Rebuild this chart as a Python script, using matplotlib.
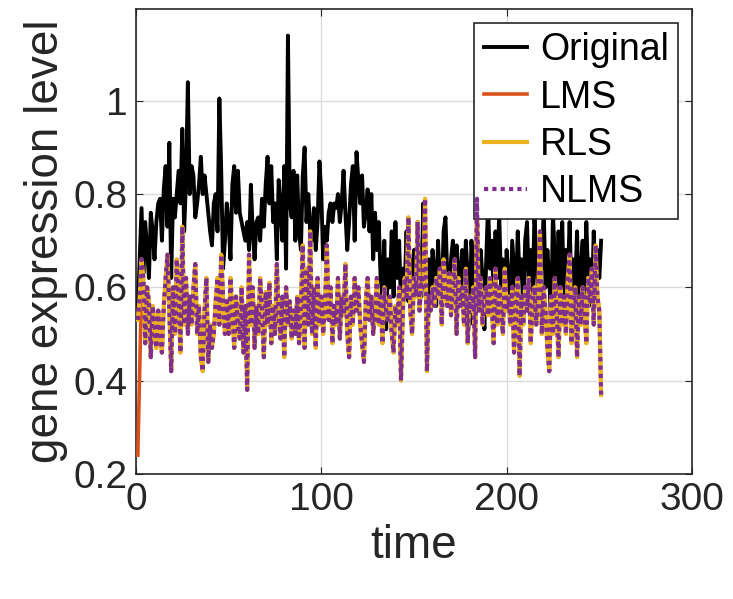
import matplotlib
matplotlib.use("Agg")
import matplotlib.pyplot as plt
import numpy as np

plt.rcParams['font.family'] = ['Liberation Sans', 'DejaVu Sans']

# Time axis
time = list(range(1, 252))

# Original gene expression level
original = [
    0.55, 0.66, 0.77, 0.63, 0.74, 0.68, 0.62, 0.76, 0.72, 0.66,
    0.74, 0.78, 0.79, 0.70, 0.81, 0.86, 0.73, 0.91, 0.62, 0.79,
    0.75, 0.80, 0.85, 0.78, 0.94, 0.72, 0.83, 1.04, 0.80, 0.86,
    0.84, 0.75, 0.78, 0.82, 0.88, 0.80, 0.84, 0.80, 0.76, 0.72,
    0.69, 0.78, 0.80, 0.72, 1.005, 0.85, 0.64, 0.70, 0.78, 0.74,
    0.66, 0.82, 0.86, 0.76, 0.85, 0.76, 0.74, 0.72, 0.70, 0.74,
    0.68, 0.82, 0.72, 0.66, 0.74, 0.75, 0.70, 0.79, 0.73, 0.82,
    0.88, 0.78, 0.86, 0.74, 0.78, 0.66, 0.83, 0.77, 0.70, 0.86,
    0.64, 1.14, 0.78, 0.75, 0.85, 0.70, 0.84, 0.72, 0.68, 0.84,
    0.90, 0.74, 0.80, 0.72, 0.70, 0.77, 0.68, 0.74, 0.87, 0.80,
    0.66, 0.73, 0.70, 0.76, 0.78, 0.74, 0.78, 0.77, 0.80, 0.74,
    0.78, 0.85, 0.76, 0.68, 0.74, 0.82, 0.86, 0.70, 0.89, 0.83,
    0.78, 0.84, 0.73, 0.76, 0.81, 0.72, 0.80, 0.66, 0.76, 0.68,
    0.74, 0.62, 0.58, 0.70, 0.51, 0.66, 0.60, 0.72, 0.58, 0.74,
    0.62, 0.70, 0.56, 0.64, 0.60, 0.72, 0.57, 0.66, 0.60, 0.68,
    0.62, 0.74, 0.60, 0.58, 0.78, 0.62, 0.56, 0.66, 0.58, 0.68,
    0.64, 0.56, 0.70, 0.60, 0.58, 0.72, 0.75, 0.62, 0.56, 0.66,
    0.70, 0.58, 0.69, 0.64, 0.56, 0.68, 0.60, 0.70, 0.62, 0.52,
    0.70, 0.64, 0.56, 0.72, 0.60, 0.68, 0.62, 0.51, 0.66, 0.78,
    0.64, 0.70, 0.58, 0.72, 0.62, 0.76, 0.60, 0.66, 0.56, 0.68,
    0.62, 0.54, 0.70, 0.64, 0.58, 0.72, 0.62, 0.66, 0.54, 0.70,
    0.74, 0.60, 0.68, 0.56, 0.76, 0.66, 0.58, 0.70, 0.64, 0.77,
    0.60, 0.68, 0.62, 0.52, 0.76, 0.66, 0.58, 0.72, 0.60, 0.74,
    0.56, 0.68, 0.62, 0.74, 0.58, 0.66, 0.60, 0.72, 0.54, 0.64,
    0.70, 0.58, 0.74, 0.62, 0.66, 0.56, 0.72, 0.60, 0.68, 0.62,
    0.70,
]

# RLS estimate
rls = [
    0.53, 0.58, 0.66, 0.62, 0.48, 0.60, 0.57, 0.45, 0.56, 0.52,
    0.47, 0.55, 0.50, 0.46, 0.56, 0.62, 0.67, 0.55, 0.42, 0.60,
    0.50, 0.66, 0.58, 0.46, 0.73, 0.52, 0.62, 0.50, 0.58, 0.52,
    0.60, 0.65, 0.50, 0.56, 0.45, 0.42, 0.55, 0.62, 0.44, 0.52,
    0.47, 0.50, 0.57, 0.62, 0.52, 0.67, 0.58, 0.50, 0.57, 0.50,
    0.62, 0.55, 0.47, 0.58, 0.52, 0.49, 0.60, 0.46, 0.56, 0.38,
    0.67, 0.52, 0.60, 0.47, 0.56, 0.50, 0.62, 0.55, 0.45, 0.59,
    0.52, 0.61, 0.48, 0.56, 0.50, 0.65, 0.54, 0.49, 0.58, 0.45,
    0.60, 0.52, 0.57, 0.49, 0.55, 0.50, 0.58, 0.48, 0.56, 0.69,
    0.47, 0.64, 0.52, 0.72, 0.50, 0.60, 0.47, 0.62, 0.52, 0.58,
    0.50, 0.56, 0.69, 0.53, 0.60, 0.48, 0.56, 0.52, 0.62, 0.49,
    0.58, 0.54, 0.65, 0.50, 0.45, 0.58, 0.52, 0.62, 0.55, 0.60,
    0.52, 0.48, 0.44, 0.57, 0.62, 0.53, 0.58, 0.50, 0.55, 0.62,
    0.52, 0.58, 0.48, 0.60, 0.55, 0.53, 0.58, 0.50, 0.46, 0.56,
    0.52, 0.60, 0.40, 0.55, 0.62, 0.58, 0.75, 0.55, 0.50, 0.62,
    0.58, 0.74, 0.55, 0.62, 0.60, 0.79, 0.42, 0.58, 0.55, 0.60,
    0.56, 0.62, 0.58, 0.64, 0.52, 0.66, 0.60, 0.56, 0.63, 0.54,
    0.60, 0.66, 0.50, 0.62, 0.56, 0.60, 0.52, 0.64, 0.48, 0.58,
    0.55, 0.60, 0.45, 0.79, 0.55, 0.62, 0.52, 0.58, 0.60, 0.54,
    0.62, 0.56, 0.48, 0.64, 0.52, 0.60, 0.56, 0.50, 0.64, 0.55,
    0.58, 0.52, 0.60, 0.46, 0.56, 0.62, 0.41, 0.58, 0.52, 0.60,
    0.55, 0.62, 0.48, 0.56, 0.60, 0.52, 0.58, 0.72, 0.50, 0.60,
    0.55, 0.47, 0.42, 0.58, 0.50, 0.62, 0.55, 0.45, 0.60, 0.52,
    0.58, 0.50, 0.62, 0.67, 0.48, 0.55, 0.60, 0.45, 0.58, 0.52,
    0.60, 0.55, 0.48, 0.62, 0.57, 0.64, 0.52, 0.69, 0.58, 0.55,
    0.37,
]

# LMS: starts low (0.24) then coincides with RLS in the picture
lms_start = [0.24, 0.42, 0.60, 0.61]
lms = lms_start + rls[len(lms_start):]

# NLMS overlaps RLS in the picture
nlms = list(rls)

series_labels = ['Original', 'LMS', 'RLS', 'NLMS']
x_ticks = [0, 100, 200, 300]
y_ticks = [0.2, 0.4, 0.6, 0.8, 1.0]
y_tick_labels = ['0.2', '0.4', '0.6', '0.8', '1']

fig = plt.figure(figsize=(7.33, 5.99), dpi=100)
ax = fig.add_axes([0.1855, 0.209, 0.7585, 0.776])

ax.plot(time, original, color='black', lw=2.8, label=series_labels[0], zorder=3)
ax.plot(time, lms, color='#D95319', lw=2.6, label=series_labels[1], zorder=4)
ax.plot(time, rls, color='#EDB120', lw=3.0, label=series_labels[2], zorder=5)
ax.plot(time, nlms, color='#7E2F8E', lw=3.0, ls=(0, (1, 1)), label=series_labels[3], zorder=6)

ax.set_xlim(0, 300)
ax.set_ylim(0.2, 1.197)
ax.set_xticks(x_ticks)
ax.set_yticks(y_ticks)
ax.set_yticklabels(y_tick_labels)
ax.tick_params(direction='in', labelsize=28, colors='#262626', length=5, pad=6,
               top=True, right=True)
ax.grid(True, color='#dcdcdc', lw=1)
ax.set_axisbelow(True)
for s in ax.spines.values():
    s.set_color('#262626')
    s.set_linewidth(1.2)

ax.set_xlabel('time', fontsize=33, color='#262626', labelpad=4)
ax.set_ylabel('gene expression level', fontsize=33, color='#262626', labelpad=4)

leg = ax.legend(loc='upper right', bbox_to_anchor=(0.975, 0.97), borderaxespad=0,
                fontsize=27, handlelength=1.15, handletextpad=0.35,
                labelspacing=0.3, borderpad=0.25, fancybox=False, framealpha=1,
                edgecolor='#262626')
leg.get_frame().set_linewidth(1.2)
for t in leg.get_texts():
    t.set_color('black')

fig.savefig('out.png', dpi=100)
